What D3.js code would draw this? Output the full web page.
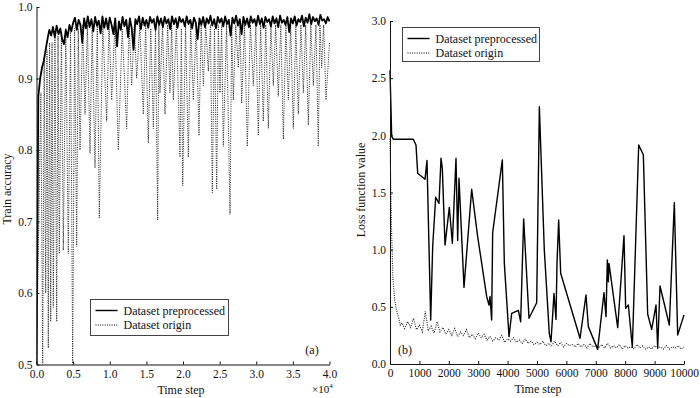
<!DOCTYPE html>
<html><head><meta charset="utf-8">
<script src="https://cdn.jsdelivr.net/npm/d3@7"></script>
<style>
html,body{margin:0;padding:0;background:#fff;}
svg{display:block;font-family:"Liberation Serif","Times New Roman",serif;}
</style></head>
<body><svg id="c" width="700" height="398"></svg>
<script>
// ---------- Panel (a): train accuracy ----------
const accStepSize = 250; // sampling interval of preprocessed series (steps)
const accPre = [
0.50,0.875,0.90,0.915,0.925,0.94,0.955,0.968,0.96,0.972,0.958,0.974,0.962,0.97,0.955,0.948,0.968,0.958,0.975,0.966,0.978,
0.985,0.968,0.982,0.975,0.950,0.984,0.970,0.987,0.972,0.983,
0.966,0.986,0.974,0.981,0.963,0.987,0.971,0.984,0.969,0.985,
0.975,0.962,0.984,0.945,0.980,0.968,0.986,0.973,0.982,0.958,
0.984,0.970,0.940,0.983,0.976,0.987,0.969,0.985,0.974,0.982,
0.971,0.986,0.978,0.983,0.968,0.987,0.975,0.984,0.972,0.986,
0.977,0.983,0.969,0.987,0.976,0.984,0.971,0.986,0.979,0.983,
0.973,0.987,0.976,0.982,0.970,0.985,0.978,0.955,0.984,0.975,
0.986,0.972,0.984,0.977,0.988,0.974,0.983,0.970,0.986,0.978,
0.984,0.973,0.987,0.976,0.982,0.960,0.985,0.977,0.988,0.974,
0.983,0.962,0.986,0.975,0.984,0.972,0.987,0.978,0.983,0.974,
0.988,0.976,0.984,0.971,0.986,0.979,0.983,0.973,0.987,0.977,
0.984,0.972,0.988,0.978,0.982,0.975,0.986,0.965,0.984,0.977,
0.987,0.974,0.983,0.979,0.988,0.973,0.985,0.978,0.990,0.976,
0.986,0.980,0.984,0.975,0.989,0.981,0.983,0.977,0.986,0.980];

// origin series: read points (step, accuracy), alternating recoveries and dips
const accOriginSteps = [
0,600,846,1050,1256,1430,1611,1780,1938,2120,2294,2520,2758,2940,3113,3400,3659,4000,4341,4650,4942,5200,5488,5700,5940,
6300,6621,6950,7304,7600,7986,8300,8573,9050,9579,9900,10262,10700,11170,11700,12310,12650,12993,13350,13675,14100,14585,14900,15265,15600,15950,16250,16540,16700,16860,17200,17540,17900,18225,18450,18680,19100,19590,19780,19960,20350,20730,21050,21410,21800,22185,22480,22780,23100,23460,23750,24000,24300,24600,24820,25050,25280,25500,25950,26420,26650,26870,27200,27550,27780,28010,28400,28780,29200,29600,29950,30280,30600,30960,31300,31650,32000,32330,32650,33010,33350,33700,34050,34380,34700,35060,35400,35740,36100,36430,36750,37110,37450,37790,38150,38470,38700,38930,39200,39520,40000];
const accOriginValues = [
0.50,0.88,0.50,0.93,0.60,0.94,0.523,0.95,0.56,0.95,0.58,0.96,0.56,0.96,0.655,0.965,0.66,0.97,0.655,0.965,0.50,0.97,0.665,0.97,0.80,
0.975,0.85,0.975,0.795,0.97,0.775,0.975,0.705,0.975,0.84,0.975,0.87,0.975,0.80,0.97,0.83,0.975,0.89,0.975,0.90,0.975,0.85,0.975,0.81,0.97,0.83,0.97,0.702,0.975,0.88,0.975,0.85,0.975,0.88,0.975,0.87,0.975,0.79,0.97,0.75,0.975,0.79,0.975,0.87,0.975,0.82,0.975,0.89,0.975,0.91,0.975,0.74,0.97,0.745,0.975,0.88,0.975,0.805,0.975,0.71,0.975,0.87,0.975,0.915,0.975,0.865,0.975,0.805,0.975,0.89,0.975,0.82,0.975,0.84,0.975,0.83,0.975,0.89,0.975,0.875,0.975,0.815,0.975,0.87,0.975,0.83,0.975,0.85,0.975,0.88,0.975,0.835,0.975,0.89,0.975,0.805,0.975,0.915,0.975,0.87,0.95];

const accXTicks = [0,5000,10000,15000,20000,25000,30000,35000,40000];
const accYTicks = [0.5,0.6,0.7,0.8,0.9,1.0];

// ---------- Panel (b): loss ----------
const lossPreSteps = [0,57,113,793,884,942,1190,1258,1384,1452,1554,1667,1735,1780,1871,2018,2120,2245,2302,2347,2517,2778,2982,3289,3367,3401,3458,3492,3821,3889,4048,4139,4365,4444,4546,4728,4989,5080,5248,5418,5476,5578,5646,5680,5737,5805,6463,6667,6746,7063,7279,7347,7392,7426,7449,7745,7959,8016,8107,8243,8459,8617,8764,8900,9048,9105,9184,9501,9671,9785,10000];
const lossPreValues = [2.57,1.99,1.966,1.966,1.916,1.668,1.616,1.78,0.385,1.03,1.458,1.405,1.80,1.71,1.04,1.37,1.056,1.80,1.08,1.625,0.67,1.528,1.114,0.589,0.516,0.59,0.385,1.149,1.785,0.88,0.24,0.443,0.47,0.37,1.269,0.40,0.536,2.25,1.0,0.268,0.195,0.618,0.39,0.88,1.26,0.794,0.225,0.604,0.327,0.128,0.624,0.414,0.91,0.72,0.88,0.318,1.123,0.487,0.516,0.146,1.916,1.83,0.437,0.303,0.516,0.137,0.682,0.341,1.41,0.254,0.43];

const lossOriginSteps = [0,50,100,150,200,250,300,350,
400,500,600,700,800,900,1000,1100,1200,1300,1400,1500,1600,1700,1800,1900,2000,2100,2200,2300,2400,2500,2600,2700,2800,2900,3000,3100,3200,3300,3400,3500,3600,3700,3800,3900,4000,4100,4200,4300,4400,4500,4600,4700,4800,4900,5000,5100,5200,5300,5400,5500,5600,5700,5800,5900,6000,6100,6200,6300,6400,6500,6600,6700,6800,6900,7000,7100,7200,7300,7400,7500,7600,7700,7800,7900,8000,8100,8200,8300,8400,8500,8600,8700,8800,8900,9000,9100,9200,9300,9400,9500,9600,9700,9800,9900,10000];
const lossOriginValues = [1.97,1.2,0.75,0.58,0.50,0.44,0.40,0.34,
0.36,0.31,0.37,0.32,0.40,0.30,0.34,0.28,0.46,0.29,
0.33,0.27,0.37,0.28,0.32,0.26,0.30,0.25,0.31,0.24,
0.28,0.25,0.30,0.23,0.26,0.22,0.27,0.23,0.26,0.21,
0.24,0.20,0.23,0.21,0.25,0.19,0.22,0.20,0.23,0.19,
0.21,0.18,0.22,0.18,0.20,0.17,0.19,0.17,0.20,0.16,
0.18,0.16,0.20,0.16,0.19,0.15,0.18,0.16,0.17,0.15,
0.18,0.15,0.17,0.14,0.18,0.15,0.16,0.14,0.17,0.14,
0.18,0.14,0.16,0.14,0.17,0.13,0.16,0.14,0.15,0.13,
0.17,0.14,0.16,0.13,0.15,0.13,0.16,0.14,0.15,0.13,
0.16,0.13,0.15,0.14,0.16,0.13,0.15];

const lossXTicks = [0,1000,2000,3000,4000,5000,6000,7000,8000,9000,10000];
const lossYTicks = [0,0.5,1.0,1.5,2.0,2.5,3.0];

const seriesNames = ["Dataset preprocessed","Dataset origin"];

// ---------- drawing ----------
const svg = d3.select("#c");
const DOT = "1,1.3";

function axes(g, x, y, xTicks, yTicks, xFmt, yFmt){
  const ax = g.append("g").attr("transform",`translate(0,${y.range()[0]})`)
    .call(d3.axisBottom(x).tickValues(xTicks).tickFormat(xFmt).tickSizeInner(-3).tickSizeOuter(0).tickPadding(5));
  const ay = g.append("g").attr("transform",`translate(${x.range()[0]},0)`)
    .call(d3.axisLeft(y).tickValues(yTicks).tickFormat(yFmt).tickSizeInner(-3).tickSizeOuter(0).tickPadding(4));
  [ax,ay].forEach(a=>{
    a.selectAll("text").attr("font-size",11.5).attr("font-family","Liberation Serif, serif").attr("fill","#111");
    a.selectAll("line,path").attr("stroke","#111");
  });
}

function legend(g, x0, y0, w, h){
  const L = g.append("g");
  L.append("rect").attr("x",x0).attr("y",y0).attr("width",w).attr("height",h)
    .attr("fill","#fff").attr("stroke","#444").attr("stroke-width",1);
  seriesNames.forEach((n,i)=>{
    const yy = y0 + 11 + i*14.5;
    L.append("line").attr("x1",x0+5).attr("x2",x0+27).attr("y1",yy).attr("y2",yy)
      .attr("stroke","#000").attr("stroke-width",i===0?1.4:1).attr("stroke-dasharray",i===0?null:DOT);
    L.append("text").attr("x",x0+33).attr("y",yy+4).attr("font-size",12).attr("fill","#111").text(n);
  });
}

// Panel a
{
  const g = svg.append("g");
  const x = d3.scaleLinear().domain([0,40000]).range([36.5,329.5]);
  const y = d3.scaleLinear().domain([0.5,1.0]).range([364.5,7]);
  const line = d3.line().x(d=>x(d[0])).y(d=>y(d[1]));
  g.append("clipPath").attr("id","ca").append("rect")
    .attr("x",x.range()[0]).attr("y",y.range()[1]-2).attr("width",x.range()[1]-x.range()[0]+2).attr("height",y.range()[0]-y.range()[1]+2);
  const origin = accOriginSteps.map((s,i)=>[s,accOriginValues[i]]);
  const pre = accPre.map((v,i)=>[i*accStepSize,v]);
  g.append("path").attr("d",line(origin)).attr("fill","none").attr("stroke","#222")
    .attr("stroke-width",1).attr("stroke-dasharray",DOT).attr("clip-path","url(#ca)");
  g.append("path").attr("d",line(pre)).attr("fill","none").attr("stroke","#000")
    .attr("stroke-width",1.8).attr("stroke-linejoin","round").attr("clip-path","url(#ca)");
  axes(g,x,y,accXTicks,accYTicks,d=>d3.format(".1f")(d/10000),d3.format(".1f"));
  legend(g,90.5,299.5,138,36);
  g.append("text").attr("x",181).attr("y",394).attr("text-anchor","middle").attr("font-size",12).attr("fill","#111").text("Time step");
  g.append("text").attr("transform","translate(11,189) rotate(-90)").attr("text-anchor","middle").attr("font-size",12).attr("fill","#111").text("Train accuracy");
  g.append("text").attr("x",312).attr("y",354).attr("text-anchor","middle").attr("font-size",12).attr("fill","#111").text("(a)");
  const t = g.append("text").attr("x",312).attr("y",393).attr("font-size",11).attr("fill","#111");
  t.append("tspan").text("×10");
  t.append("tspan").attr("font-size",7).attr("dy",-5).text("4");
}

// Panel b
{
  const g = svg.append("g");
  const x = d3.scaleLinear().domain([0,10000]).range([390,684]);
  const y = d3.scaleLinear().domain([0,3]).range([364,21]);
  const line = d3.line().x(d=>x(d[0])).y(d=>y(d[1]));
  const origin = lossOriginSteps.map((s,i)=>[s,lossOriginValues[i]]);
  const pre = lossPreSteps.map((s,i)=>[s,lossPreValues[i]]);
  g.append("path").attr("d",line(origin)).attr("fill","none").attr("stroke","#222")
    .attr("stroke-width",1.1).attr("stroke-dasharray",DOT);
  g.append("path").attr("d",line(pre)).attr("fill","none").attr("stroke","#000")
    .attr("stroke-width",1.4).attr("stroke-linejoin","round");
  axes(g,x,y,lossXTicks,lossYTicks,d3.format("d"),d3.format(".1f"));
  legend(g,402.5,27.5,137,34);
  g.append("text").attr("x",538).attr("y",393).attr("text-anchor","middle").attr("font-size",12).attr("fill","#111").text("Time step");
  g.append("text").attr("transform","translate(365,190) rotate(-90)").attr("text-anchor","middle").attr("font-size",12).attr("fill","#111").text("Loss function value");
  g.append("text").attr("x",405).attr("y",354).attr("text-anchor","middle").attr("font-size",12).attr("fill","#111").text("(b)");
}
</script></body></html>
